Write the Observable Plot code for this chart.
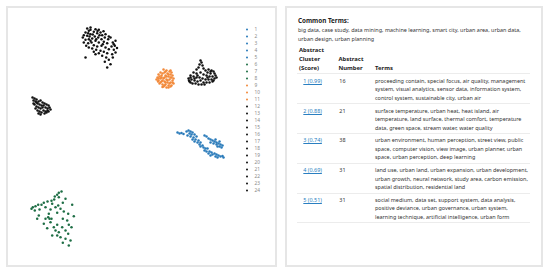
<!DOCTYPE html>
<html>
<head>
<meta charset="utf-8">
<script src="https://cdn.jsdelivr.net/npm/d3@7"></script>
<script src="https://cdn.jsdelivr.net/npm/@observablehq/plot@0.6"></script>
<style>
  html, body { margin: 0; padding: 0; background: #fff; }
  body { width: 550px; height: 273px; position: relative; overflow: hidden; font-family: "Noto Sans", sans-serif; }
  .panel { position: absolute; box-sizing: border-box; border: 2px solid #e6e6e6; background: #fff; }
  #left { left: 6px; top: 6px; width: 271px; height: 261px; }
  #right { left: 285px; top: 6px; width: 258px; height: 261px; }
  #scatter { position: absolute; left: 7px; top: 7px; }
  #legend { position: absolute; left: 241px; top: 7px; }
  .abs { position: absolute; white-space: nowrap; }
  #heading { left: 298px; top: 15.5px; font-size: 6.3px; line-height: 9px; font-weight: bold; color: #222; }
  #common { left: 298px; top: 25.5px; font-size: 5.45px; line-height: 9px; color: #333; }
  #tbl { position: absolute; left: 297px; top: 45.4px; border-collapse: collapse; table-layout: fixed; width: 233px; }
  #tbl th { font-size: 5.9px; line-height: 9.3px; font-weight: bold; color: #222; text-align: left; vertical-align: bottom; padding: 0; height: 28px; border-bottom: 1px solid #ececec; white-space: nowrap; }
  #tbl td { font-size: 5.45px; line-height: 8.5px; color: #333; text-align: left; vertical-align: top; padding: 2.4px 0 0 0; height: 26.4px; border-bottom: 1px solid #ececec; white-space: nowrap; }
  #tbl a { color: #2a7fc1; text-decoration: underline; }
</style>
</head>
<body>
<div class="panel" id="left"></div>
<div class="panel" id="right"></div>
<div id="scatter"></div>
<div id="legend"></div>
<div class="abs" id="heading"></div>
<div class="abs" id="common"></div>
<table id="tbl"></table>
<script>
// ---- Scatter data (2-D embedding) ----
const clusterTopLeft = [[86.7,28],[90,27],[95,28.7],[98.3,29.3],[93.3,31.3],[88.3,30.3],[85,32],[83.3,34.7],[86.7,35.3],[90,33.7],[96.7,32.7],[100,32],[101.7,34.7],[105,33.7],[94.3,36],[91.7,38],[88.3,38.7],[85,39.3],[97.7,37],[101,38.7],[104.3,37],[107.7,38.7],[110,37],[95,40.3],[91,42],[87.7,42.7],[98.3,42],[103.3,41.3],[106.7,42.7],[112.3,42],[115,40.3],[114.3,45.3],[111,46],[93.3,44.7],[96.7,46],[101,45.3],[105,47],[108.3,48.7],[113.3,49.3],[115,52],[111.7,53.7],[106.7,52.7],[103.3,51.3],[100,50.3],[95.7,49.3],[91.7,48],[88.3,47],[85.7,45.3],[85,57],[95,53.7],[101.7,55.3],[105.7,57],[108.3,59.3],[104.3,61.3],[110,63.7],[106.7,67],[112.3,57],[90,29.3],[87.7,32.7],[92.3,34],[99,34.7],[108.3,36],[95.7,38.7],[90,40.3],[102.3,43.7],[98.3,52.7],[93.3,51.3],[83.3,42],[82.3,37],[113.3,43.7],[116.5,47.5],[89,36],[97,30.5],[103,30.8]];
const clusterTopRight = [[200,60],[201,62],[199,64],[202,65],[198,67],[203,68],[196,69],[205,70],[208,69],[211,70],[213,71],[207,72],[210,73],[214,73],[193,72],[196,73],[200,72],[203,74],[206,75],[209,76],[212,76],[215,75],[190,75],[193,76],[196,77],[199,77],[202,78],[205,79],[208,79],[211,79],[214,78],[188,78],[191,79],[194,80],[197,81],[200,80],[203,82],[206,82],[209,82],[212,81],[189,81],[192,83],[195,83],[198,84],[201,84],[204,84],[190,77],[197,75],[213,80],[216,77],[188.5,80],[190,82],[207,77],[210,71],[194,78]];
const clusterLeft = [[32,97],[34,98],[36,99],[33,100],[35,101],[38,101],[40,100],[42,102],[37,103],[39,104],[41,105],[44,103],[46,104],[48,105],[34,104],[36,106],[38,107],[40,108],[42,107],[45,107],[47,108],[49,107],[50,109],[35,108],[37,110],[39,111],[41,112],[43,110],[45,111],[47,110],[38,113],[40,114],[44,113],[46,112],[48,111],[36,102],[43,105],[33,103]];
const clusterOrange = [[163,69],[166,70],[169,71],[171,72],[160,72],[164,72],[167,73],[170,74],[172,75],[158,74],[161,75],[165,75],[168,76],[171,77],[157,77],[160,78],[163,78],[166,79],[169,79],[172,80],[158,80],[161,81],[164,81],[167,82],[170,82],[159,83],[162,84],[165,84],[168,85],[171,85],[163,86],[166,87],[156,79],[173,78],[162,73],[168,74],[159,76],[164,77],[170,77],[162,80],[167,80],[160,82],[165,82],[169,83],[164,85],[170,86],[158,78],[173,83],[166,76],[161,77],[165,71],[170,70],[157.5,81],[162,86.5],[168,87],[172,82]];
const clusterBlue = [[177,132],[179,133],[181,132.5],[183,133.5],[186,131],[188,130],[190,131],[192,132],[189,133],[191,134],[194,134],[187,135],[190,136],[193,137],[196,136],[192,139],[195,139],[198,140],[194,141],[197,142],[200,142],[199,144],[202,145],[200,146],[203,147],[205,148],[207,148],[204,150],[206,151],[209,151],[211,152],[208,153],[212,154],[214,153],[216,154],[215,156],[218,155],[220,156],[222,155.5],[223,157],[210,155],[217,157],[204,135],[206,136],[208,138],[210,139],[212,140],[214,141],[216,142],[218,143],[220,144],[222,145],[213,143],[216,144],[219,146],[221,147],[217,146],[210,142],[215,139],[219,141]];
const clusterGreen = [[61,191],[58.3,192.3],[56.7,194.3],[54.3,196],[58.3,196.7],[53.7,199],[51,200.3],[47,201],[43.3,202.3],[41,204.3],[37.7,204.3],[35,205.7],[32.3,206.7],[31,208.3],[34.3,210],[39,209],[45,206.7],[50,209],[48.3,213.3],[47.7,216.7],[49,218.3],[55,206.7],[57.7,205],[60,208.3],[71.7,204.3],[63.3,211],[56.7,212.3],[67.7,213.3],[62.3,218.3],[66.7,220],[73.3,215.7],[38.3,215],[36.7,218.3],[43.3,223.3],[50,221.7],[53.3,226.7],[46.7,227.7],[56.7,224.3],[61.7,226.7],[68.3,224.3],[71,226.7],[65,230],[58.3,231.7],[55,230],[51.7,235],[56.7,235],[60,236.7],[67.7,233.3],[65,238.3],[70,240],[62.3,242.3],[68.3,245],[51,218.3],[45,218.3],[62.3,202.3],[65,198.3],[51.7,203.3]];

// ---- Legend ----
const legendIds = ["1","2","3","4","5","6","7","8","9","10","11","12","13","14","15","16","17","18","19","20","21","22","23","24"];
const legendColors = ["#2b7bba","#2b7bba","#2b7bba","#2b7bba","#2b7bba","#1e6e45","#1e6e45","#1e6e45","#f28a3c","#f28a3c","#f28a3c","#111111","#111111","#111111","#111111","#111111","#111111","#111111","#111111","#111111","#111111","#111111","#111111","#111111"];

// ---- Table data ----
const headingText = "Common Terms:";
const commonTermLines = ["big data, case study, data mining, machine learning, smart city, urban area, urban data,", "urban design, urban planning"];
const headerCol1 = ["Abstract", "Cluster", "(Score)"];
const headerCol2 = ["Abstract", "Number"];
const headerCol3 = ["Terms"];
const clusterLabels = ["1 (0.99)", "2 (0.88)", "3 (0.74)", "4 (0.69)", "5 (0.51)"];
const abstractNumbers = [16, 21, 38, 31, 31];
const termLines = [
  ["proceeding contain, special focus, air quality, management", "system, visual analytics, sensor data, information system,", "control system, sustainable city, urban air"],
  ["surface temperature, urban heat, heat island, air", "temperature, land surface, thermal comfort, temperature", "data, green space, stream water, water quality"],
  ["urban environment, human perception, street view, public", "space, computer vision, view image, urban planner, urban", "space, urban perception, deep learning"],
  ["land use, urban land, urban expansion, urban development,", "urban growth, neural network, study area, carbon emission,", "spatial distribution, residential land"],
  ["social medium, data set, support system, data analysis,", "positive deviance, urban governance, urban system,", "learning technique, artificial intelligence, urban form"]
];

// ---- Build scatter ----
const groups = [
  [clusterBlue, "1"], [clusterGreen, "6"], [clusterOrange, "9"],
  [clusterTopLeft, "12"], [clusterTopRight, "13"], [clusterLeft, "14"]
];
const points = groups.flatMap(([arr, c]) => arr.map(([x, y]) => ({x, y, c})));

const scatter = Plot.plot({
  width: 268, height: 259,
  margin: 0,
  x: {domain: [7, 275], axis: null},
  y: {domain: [7, 266], reverse: true, axis: null},
  color: {domain: legendIds, range: legendColors},
  marks: [
    Plot.dot(points, {x: "x", y: "y", fill: "c", r: 1.25, stroke: "none"})
  ]
});
scatter.style.background = "transparent";
document.getElementById("scatter").appendChild(scatter);

const legend = Plot.plot({
  width: 24, height: 200,
  margin: 0,
  x: {axis: null},
  y: {type: "point", domain: legendIds, range: [13.6, 192.2], axis: null},
  color: {domain: legendIds, range: legendColors},
  marks: [
    Plot.dot(legendIds, {y: d => d, fill: d => d, r: 1, frameAnchor: "left", dx: 5.5}),
    Plot.text(legendIds, {y: d => d, text: d => d, frameAnchor: "left", dx: 13, textAnchor: "start", fill: "#8a8a8a", fontSize: 4.8, fontFamily: "Noto Sans"})
  ]
});
legend.style.background = "transparent";
legend.style.overflow = "visible";
document.getElementById("legend").appendChild(legend);

// ---- Build table ----
document.getElementById("heading").textContent = headingText;
document.getElementById("common").innerHTML = commonTermLines.join("<br>");

const tbl = document.getElementById("tbl");
const colgroup = document.createElement("colgroup");
[41, 36, 156].forEach(w => { const c = document.createElement("col"); c.style.width = w + "px"; colgroup.appendChild(c); });
tbl.appendChild(colgroup);
const thead = document.createElement("tr");
[[headerCol1, 2], [headerCol2, 0.5], [headerCol3, 1]].forEach(([lines, pl]) => {
  const th = document.createElement("th");
  th.innerHTML = lines.join("<br>");
  th.style.paddingLeft = pl + "px";
  thead.appendChild(th);
});
tbl.appendChild(thead);
clusterLabels.forEach((lab, i) => {
  const tr = document.createElement("tr");
  const td1 = document.createElement("td");
  td1.style.paddingLeft = "6.3px";
  const a = document.createElement("a");
  a.textContent = lab;
  td1.appendChild(a);
  const td2 = document.createElement("td");
  td2.style.paddingLeft = "1.3px";
  td2.textContent = abstractNumbers[i];
  const td3 = document.createElement("td");
  td3.style.paddingLeft = "1px";
  td3.innerHTML = termLines[i].join("<br>");
  tr.append(td1, td2, td3);
  tbl.appendChild(tr);
});
</script>
</body>
</html>
